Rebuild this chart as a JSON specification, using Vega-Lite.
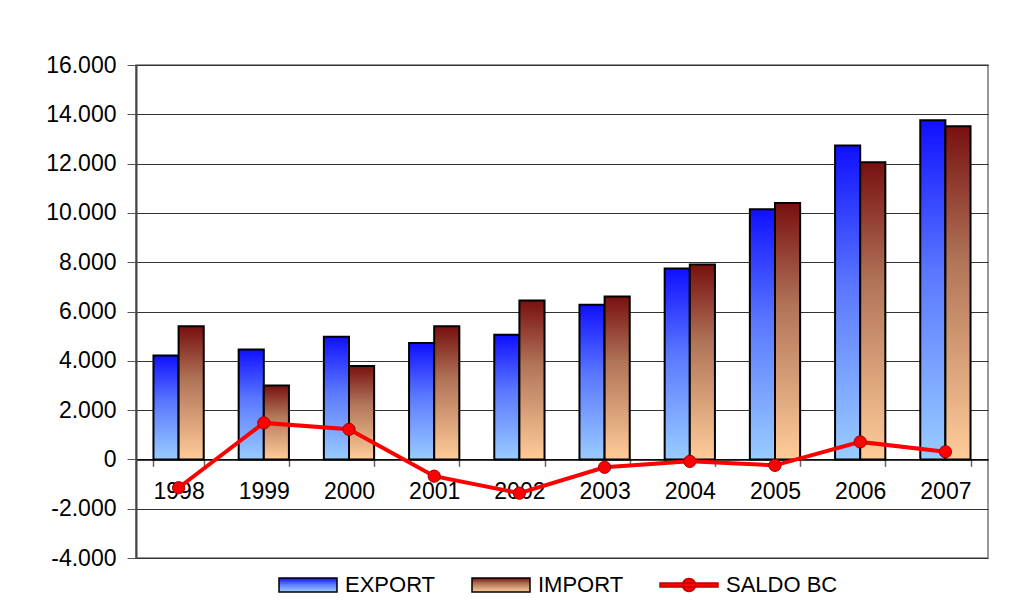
{
  "$schema": "https://vega.github.io/schema/vega-lite/v6.json",
  "width": 852,
  "height": 493,
  "autosize": "none",
  "padding": {"left": 136, "top": 65, "right": 26, "bottom": 42},
  "background": "white",
  "config": {
    "locale": {"number": {"decimal": ",", "thousands": ".", "grouping": [3], "currency": ["", ""], "minus": "-"}},
    "font": "Liberation Sans",
    "view": {"stroke": "#777777", "strokeWidth": 1.5}
  },
  "data": {
    "values": [
      {"year": "1998", "series": "EXPORT", "value": 4220},
      {"year": "1998", "series": "IMPORT", "value": 5400},
      {"year": "1998", "series": "SALDO BC", "value": -1150},
      {"year": "1999", "series": "EXPORT", "value": 4460},
      {"year": "1999", "series": "IMPORT", "value": 3000},
      {"year": "1999", "series": "SALDO BC", "value": 1480},
      {"year": "2000", "series": "EXPORT", "value": 4980},
      {"year": "2000", "series": "IMPORT", "value": 3790},
      {"year": "2000", "series": "SALDO BC", "value": 1220},
      {"year": "2001", "series": "EXPORT", "value": 4720},
      {"year": "2001", "series": "IMPORT", "value": 5400},
      {"year": "2001", "series": "SALDO BC", "value": -680},
      {"year": "2002", "series": "EXPORT", "value": 5060},
      {"year": "2002", "series": "IMPORT", "value": 6450},
      {"year": "2002", "series": "SALDO BC", "value": -1370},
      {"year": "2003", "series": "EXPORT", "value": 6270},
      {"year": "2003", "series": "IMPORT", "value": 6610},
      {"year": "2003", "series": "SALDO BC", "value": -320},
      {"year": "2004", "series": "EXPORT", "value": 7740},
      {"year": "2004", "series": "IMPORT", "value": 7910},
      {"year": "2004", "series": "SALDO BC", "value": -80},
      {"year": "2005", "series": "EXPORT", "value": 10150},
      {"year": "2005", "series": "IMPORT", "value": 10400},
      {"year": "2005", "series": "SALDO BC", "value": -240},
      {"year": "2006", "series": "EXPORT", "value": 12730},
      {"year": "2006", "series": "IMPORT", "value": 12050},
      {"year": "2006", "series": "SALDO BC", "value": 710},
      {"year": "2007", "series": "EXPORT", "value": 13760},
      {"year": "2007", "series": "IMPORT", "value": 13520},
      {"year": "2007", "series": "SALDO BC", "value": 310}
    ]
  },
  "encoding": {
    "x": {
      "field": "year",
      "type": "ordinal",
      "scale": {"paddingInner": 0.41, "paddingOuter": 0.205},
      "axis": {
        "title": null,
        "offset": -98.6,
        "domain": true,
        "domainColor": "#000000",
        "domainWidth": 1.5,
        "tickBand": "extent",
        "tickSize": 7,
        "tickColor": "#666666",
        "tickWidth": 1.5,
        "labelAngle": 0,
        "labelFontSize": 23,
        "labelColor": "#000000",
        "labelPadding": 14,
        "grid": false
      }
    },
    "y": {
      "field": "value",
      "type": "quantitative",
      "scale": {"domain": [-4000, 16000], "nice": false, "zero": false},
      "axis": {
        "title": null,
        "values": [-4000, -2000, 0, 2000, 4000, 6000, 8000, 10000, 12000, 14000, 16000],
        "format": ",d",
        "labelFontSize": 23,
        "labelColor": "#000000",
        "labelPadding": 11,
        "tickSize": 9,
        "tickColor": "#555555",
        "domainColor": "#444444",
        "domainWidth": 2,
        "grid": true,
        "gridColor": "#333333",
        "gridWidth": 1,
        "gridOpacity": 1
      }
    }
  },
  "layer": [
    {
      "transform": [{"filter": "datum.series !== 'SALDO BC'"}],
      "mark": {"type": "bar", "stroke": "#000000", "strokeWidth": 2},
      "encoding": {
        "xOffset": {
          "field": "series",
          "type": "nominal",
          "scale": {"domain": ["EXPORT", "IMPORT"], "paddingInner": 0, "paddingOuter": 0}
        },
        "color": {
          "field": "series",
          "type": "nominal",
          "scale": {
            "domain": ["EXPORT", "IMPORT", "SALDO BC"],
            "range": [
              {"expr": "{gradient: 'linear', x1: 0, y1: 0, x2: 0, y2: 1, stops: [{offset: 0, color: '#1010ff'}, {offset: 0.45, color: '#5a78ff'}, {offset: 1, color: '#99ccff'}]}"},
              {"expr": "{gradient: 'linear', x1: 0, y1: 0, x2: 0, y2: 1, stops: [{offset: 0, color: '#781010'}, {offset: 0.4, color: '#b07458'}, {offset: 1, color: '#ffcc99'}]}"},
              "#ff0000"
            ]
          },
          "legend": {
            "title": null,
            "orient": "none",
            "legendX": 161,
            "legendY": 509,
            "direction": "horizontal",
            "labelFontSize": 22,
            "labelColor": "#000000",
            "labelOffset": 26,
            "columnPadding": 33,
            "symbolSize": 400,
            "symbolStrokeWidth": 1.5,
            "symbolType": {"expr": "datum.value === 'SALDO BC' ? 'M-2.9,-0.2H2.9V0.2H-2.9Z M0.65,0A0.65,0.65,0,1,1,-0.65,0A0.65,0.65,0,1,1,0.65,0Z' : 'M-2.9,-0.7H2.9V0.7H-2.9Z'"},
            "symbolStrokeColor": {"expr": "datum.value === 'SALDO BC' ? '#c00000' : '#000000'"},
            "encode": {
              "symbols": {
                "update": {
                  "shape": [
                    {"test": "datum.value === 'SALDO BC'", "value": "M-2.9,-0.2H2.9V0.2H-2.9Z M0.65,0A0.65,0.65,0,1,1,-0.65,0A0.65,0.65,0,1,1,0.65,0Z"},
                    {"value": "M-2.9,-0.7H2.9V0.7H-2.9Z"}
                  ],
                  "stroke": [
                    {"test": "datum.value === 'SALDO BC'", "value": "#c00000"},
                    {"value": "#000000"}
                  ],
                  "strokeWidth": {"value": 1.5},
                  "opacity": {"value": 1}
                }
              }
            }
          }
        }
      }
    },
    {
      "transform": [{"filter": "datum.series === 'SALDO BC'"}],
      "mark": {
        "type": "line",
        "color": "#ff0000",
        "strokeWidth": 4,
        "point": {"filled": true, "fill": "#ff0000", "stroke": "#a00000", "strokeWidth": 1, "size": 150}
      },
      "encoding": {}
    }
  ]
}
